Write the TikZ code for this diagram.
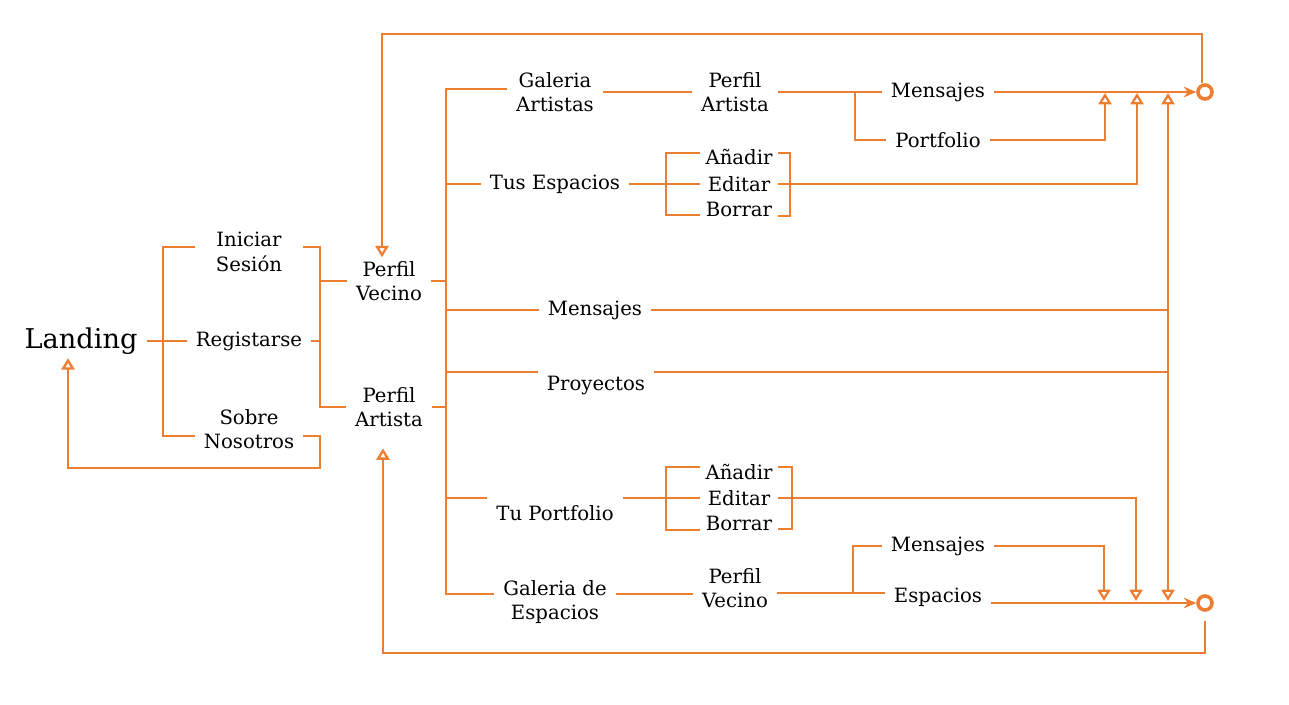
\documentclass[tikz,border=0pt]{standalone}
\usepackage{fontspec}
\setmainfont{DejaVu Serif}
\usetikzlibrary{arrows.meta}
\definecolor{lineorange}{RGB}{237,125,49}

\begin{document}
\begin{tikzpicture}[x=0.02cm,y=-0.02cm,
    every node/.style={align=center,inner xsep=5pt,inner ysep=2pt,font=\fontsize{11.2}{14}\selectfont},
    wire/.style={draw=lineorange,line width=1.3pt},
    back/.style={wire,-{Triangle[open,length=6.5pt,width=7.5pt]}},
    fwd/.style={wire,-{Stealth[length=7pt,width=6pt]}},
    col/.style={minimum width=2.16cm},
    opt/.style={minimum width=1.56cm,inner xsep=0pt,inner ysep=0pt},
    goal/.style={circle,draw=lineorange,line width=2pt,minimum size=8pt,inner sep=0pt}]
    \useasboundingbox (0,0) rectangle (1289,705);
    \node[font=\fontsize{15.5}{18}\selectfont] (A0_0) at (81,341) {Landing};
    \node[col] (A1_0) at (249,252) {Iniciar\\Sesión};
    \node[col] (A1_1) at (249,341) {Registarse};
    \node[col] (A1_2) at (249,429) {Sobre\\Nosotros};
    \node (A2_0) at (389,281) {Perfil\\Vecino};
    \node (A2_1) at (389,407) {Perfil\\Artista};
    \node (A3_0) at (555,92) {Galeria\\Artistas};
    \node (A3_1) at (555,184) {Tus Espacios};
    \node (A3_2) at (595,310) {Mensajes};
    \node (A3_3) at (596,386) {Proyectos};
    \node (A3_4) at (555,513) {Tu Portfolio};
    \node (A3_5) at (555,602) {Galeria de\\Espacios};
    \node (A4_0) at (735,92) {Perfil\\Artista};
    \node[opt] (A4_1) at (739,157) {Añadir};
    \node[opt] (A4_2) at (739,184) {Editar};
    \node[opt] (A4_3) at (739,209) {Borrar};
    \node[opt] (A4_4) at (739,472) {Añadir};
    \node[opt] (A4_5) at (739,498) {Editar};
    \node[opt] (A4_6) at (739,523) {Borrar};
    \node (A4_7) at (735,588) {Perfil\\Vecino};
    \node (A5_0) at (938,92) {Mensajes};
    \node (A5_1) at (938,140) {Portfolio};
    \node (A5_2) at (938,546) {Mensajes};
    \node (A5_3) at (938,597) {Espacios};
    \node[goal] (E0) at (1205,92) {};
    \node[goal] (E1) at (1205,603) {};
    \coordinate (B0) at (163,247);
    \coordinate (B1) at (163,436);
    \coordinate (B2) at (320,247);
    \coordinate (B3) at (320,468);
    \coordinate (B4) at (68,468);
    \coordinate (S0) at (446,89);
    \coordinate (S1) at (446,594);
    \coordinate (S2) at (446,372);
    \coordinate (S3) at (446,498);
    \coordinate (T0) at (855,92);
    \coordinate (T1) at (853,593);
    \coordinate (K0) at (666,153);
    \coordinate (K1) at (666,215);
    \coordinate (K2) at (790,153);
    \coordinate (K3) at (790,216);
    \coordinate (K4) at (666,467);
    \coordinate (K5) at (666,530);
    \coordinate (K6) at (792,467);
    \coordinate (K7) at (792,529);
    \coordinate (U0) at (1105,93);
    \coordinate (U1) at (1137,93);
    \coordinate (V0) at (1168,93);
    \coordinate (U2) at (1136,601);
    \coordinate (U3) at (1104,601);
    \coordinate (V1) at (1168,601);
    \coordinate (L0) at (1202,34);
    \coordinate (L1) at (382,34);
    \coordinate (L3) at (383,653);
    \draw[wire] (A0_0.east) -- (A1_1.west);
    \draw[wire] (A1_0.west |- B0) -- (B0) -- (B1) -- (A1_2.west |- B1);
    \draw[wire] (A1_0.east |- B2) -- (B2) |- (A2_1.west);
    \draw[wire] (A1_1.east) -- (B2 |- A1_1);
    \draw[wire] (B2 |- A2_0) -- (A2_0.west);
    \draw[back] (A1_2.east |- B1) -| (B3) -- (B4) -- (B4 |- A0_0.south);
    \draw[wire] (A3_0.west |- S0) -- (S0) -- (S1) -- (A3_5.west |- S1);
    \draw[wire] (A2_0.east) -- (S0 |- A2_0);
    \draw[wire] (A2_1.east) -- (S0 |- A2_1);
    \draw[wire] (S0 |- A3_1) -- (A3_1.west);
    \draw[wire] (S0 |- A3_2) -- (A3_2.west);
    \draw[wire] (S2) -- (S2 -| A3_3.west);
    \draw[wire] (S3) -- (S3 -| A3_4.west);
    \draw[wire] (A3_0.east) -- (A4_0.west);
    \draw[wire] (A4_0.east) -- (A5_0.west);
    \draw[wire] (T0) |- (A5_1.west);
    \draw[fwd] (A5_0.east) -- (E0);
    \draw[back] (A5_1.east) -| (U0);
    \draw[wire] (A3_1.east) -- (K0 |- A3_1);
    \draw[wire] (A4_1.west |- K0) -- (K0) -- (K1) -- (A4_3.west |- K1);
    \draw[wire] (K0 |- A4_2) -- (A4_2.west);
    \draw[wire] (A4_1.east |- K2) -- (K2) -- (K3) -- (A4_3.east |- K3);
    \draw[back] (A4_2.east) -| (U1);
    \draw[wire] (A3_2.east) -- (V0 |- A3_2);
    \draw[wire] (A3_3.east |- S2) -- (V0 |- S2);
    \draw[back] (V0 |- A3_2) -- (V0);
    \draw[back] (V0 |- A3_2) -- (V1);
    \draw[wire] (A3_4.east |- S3) -- (K4 |- S3);
    \draw[wire] (A4_4.west |- K4) -- (K4) -- (K5) -- (A4_6.west |- K5);
    \draw[wire] (K4 |- A4_5) -- (A4_5.west);
    \draw[wire] (A4_4.east |- K6) -- (K6) -- (K7) -- (A4_6.east |- K7);
    \draw[back] (A4_5.east) -| (U2);
    \draw[wire] (A3_5.east |- S1) -- (A4_7.west |- S1);
    \draw[wire] (A4_7.east |- T1) -- (T1) |- (A5_2.west);
    \draw[wire] (T1) -- (A5_3.west |- T1);
    \draw[back] (A5_2.east) -| (U3);
    \draw[fwd] (A5_3.east |- E1) -- (E1);
    \draw[back] (E0.north -| L0) -- (L0) -- (L1) -- (L1 |- A2_0.north);
    \draw[back,shorten <=5pt,shorten >=10pt] (E1.south) |- (L3) -- (L3 |- A2_1.south);
\end{tikzpicture}
\end{document}
